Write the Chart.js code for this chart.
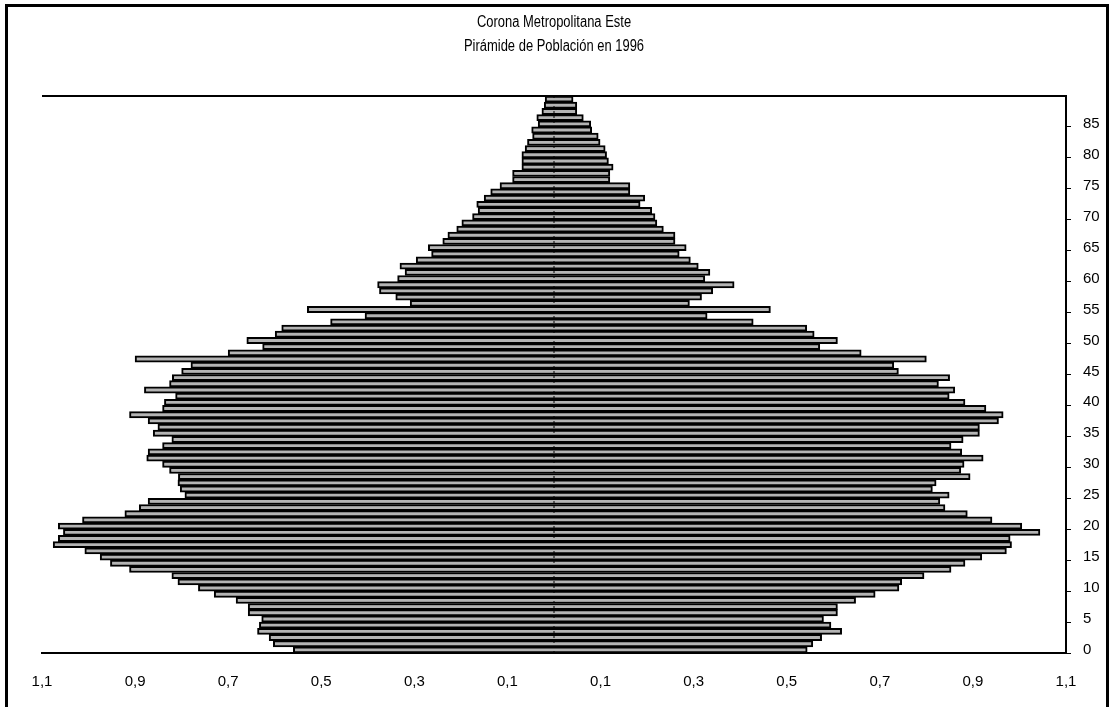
<!DOCTYPE html>
<html>
    <head>
        <title>Pirámide de Población 1996</title>
        <meta http-equiv="Content-Type" content="text/html; charset=UTF-8">
        <script src="https://cdn.jsdelivr.net/npm/chart.js"></script>
        <style>
            body { margin: 0; background: #fff; }
            #cadre {
                position: absolute; left: 5px; top: 4px;
                width: 1104px; height: 720px;
                border: 3px solid #000; box-sizing: border-box;
            }
            #zone { position: absolute; left: 0; top: 0; width: 1114px; height: 707px; }
        </style>
    </head>
    <body>
        <div id="cadre"></div>
        <div id="zone"><canvas id="piramide"></canvas></div>

        <script>
            // edades 0..89
            const edades = [];
            for (let i = 0; i < 90; i++) edades.push(String(i));

            // % de población, hombres (izquierda) y mujeres (derecha)
            const hombres = [
                0.560, 0.603, 0.612, 0.637, 0.633, 0.628, 0.657, 0.657, 0.683, 0.730,
                0.764, 0.808, 0.821, 0.912, 0.953, 0.975, 1.008, 1.076, 1.065, 1.054,
                1.065, 1.013, 0.922, 0.891, 0.872, 0.793, 0.803, 0.808, 0.807, 0.826,
                0.841, 0.875, 0.872, 0.841, 0.821, 0.861, 0.851, 0.872, 0.912, 0.841,
                0.837, 0.813, 0.880, 0.826, 0.820, 0.800, 0.780, 0.900, 0.700, 0.626,
                0.660, 0.599, 0.585, 0.480, 0.406, 0.530, 0.309, 0.340, 0.375, 0.379,
                0.336, 0.320, 0.331, 0.296, 0.263, 0.270, 0.239, 0.228, 0.209, 0.198,
                0.175, 0.163, 0.166, 0.150, 0.136, 0.116, 0.089, 0.089, 0.069, 0.069,
                0.069, 0.062, 0.057, 0.046, 0.048, 0.034, 0.037, 0.026, 0.021, 0.019
            ];
            const mujeres = [
                0.544, 0.556, 0.575, 0.618, 0.595, 0.579, 0.609, 0.609, 0.648, 0.690,
                0.741, 0.747, 0.795, 0.853, 0.883, 0.919, 0.972, 0.983, 0.980, 1.044,
                1.005, 0.941, 0.888, 0.840, 0.829, 0.849, 0.813, 0.821, 0.894, 0.874,
                0.881, 0.922, 0.876, 0.853, 0.879, 0.914, 0.914, 0.955, 0.965, 0.928,
                0.883, 0.849, 0.861, 0.826, 0.850, 0.740, 0.730, 0.800, 0.660, 0.571,
                0.609, 0.559, 0.543, 0.428, 0.329, 0.465, 0.291, 0.317, 0.341, 0.387,
                0.324, 0.335, 0.310, 0.293, 0.269, 0.284, 0.260, 0.260, 0.235, 0.221,
                0.217, 0.210, 0.185, 0.195, 0.163, 0.163, 0.120, 0.120, 0.127, 0.117,
                0.113, 0.110, 0.099, 0.095, 0.081, 0.079, 0.063, 0.049, 0.049, 0.041
            ];

            const valoresX = [-1.1, -0.9, -0.7, -0.5, -0.3, -0.1, 0.1, 0.3, 0.5, 0.7, 0.9, 1.1];
            const etiquetasX = ['1,1', '0,9', '0,7', '0,5', '0,3', '0,1', '0,1', '0,3', '0,5', '0,7', '0,9', '1,1'];

            const titulo = ['Corona Metropolitana Este', 'Pirámide de Población en 1996'];

            const fuente = "'Liberation Sans', Arial, sans-serif";
            Chart.defaults.font.family = fuente;
            Chart.defaults.color = '#000';

            // título (letra estrecha) centrado sobre el área, línea de arriba y línea punteada central
            const bordes = {
                id: 'bordes',
                afterDraw(chart) {
                    const c = chart.ctx, a = chart.chartArea;
                    const xc = (a.left + a.right) / 2;
                    c.save();
                    c.fillStyle = '#000';
                    c.font = '16px ' + fuente;
                    c.textAlign = 'center';
                    c.textBaseline = 'middle';
                    c.translate(xc, 0);
                    c.scale(0.81, 1);
                    c.fillText(titulo[0], 0, 23);
                    c.fillText(titulo[1], 0, 47);
                    c.restore();
                },
                afterDatasetsDraw(chart) {
                    const c = chart.ctx, a = chart.chartArea;
                    const x0 = chart.scales.x.getPixelForValue(0);
                    c.save();
                    c.strokeStyle = '#000';
                    c.lineWidth = 1;
                    c.setLineDash([2, 3]);
                    c.beginPath();
                    c.moveTo(x0, a.top);
                    c.lineTo(x0, a.bottom);
                    c.stroke();
                    c.setLineDash([]);
                    c.lineWidth = 2;
                    c.beginPath();
                    c.moveTo(a.left, a.top);
                    c.lineTo(a.right + 1, a.top);
                    c.stroke();
                    c.restore();
                }
            };

            const ctx = document.getElementById('piramide').getContext('2d');
            const chart = new Chart(ctx, {
                type: 'bar',
                data: {
                    labels: edades,
                    datasets: [
                        {
                            label: 'Hombres',
                            data: hombres.map(v => -v),
                            backgroundColor: '#b4b4b4',
                            borderColor: '#000',
                            borderWidth: 2,
                            barPercentage: 1,
                            categoryPercentage: 1
                        },
                        {
                            label: 'Mujeres',
                            data: mujeres,
                            backgroundColor: '#b4b4b4',
                            borderColor: '#000',
                            borderWidth: 2,
                            barPercentage: 1,
                            categoryPercentage: 1
                        }
                    ]
                },
                options: {
                    indexAxis: 'y',
                    responsive: true,
                    maintainAspectRatio: false,
                    animation: false,
                    layout: { padding: { left: 42, right: 0, top: 96, bottom: 0 } },
                    plugins: {
                        legend: { display: false },
                        tooltip: { enabled: false },
                        title: { display: false }
                    },
                    scales: {
                        x: {
                            stacked: true,
                            min: -1.1,
                            max: 1.1,
                            afterBuildTicks: (scale) => {
                                scale.ticks = valoresX.map(v => ({ value: v }));
                            },
                            afterFit: (scale) => { scale.height = 54; },
                            grid: { display: false, drawTicks: false },
                            border: { color: '#000', width: 2 },
                            ticks: {
                                autoSkip: false,
                                maxRotation: 0,
                                padding: 20,
                                font: { size: 15 },
                                callback: (value, index) => etiquetasX[index]
                            }
                        },
                        y: {
                            stacked: true,
                            reverse: true,
                            position: 'right',
                            afterFit: (scale) => { scale.width = 48; },
                            grid: {
                                drawOnChartArea: false,
                                tickLength: 5,
                                color: (c) => (c.index % 5 === 0 ? '#000' : 'rgba(0,0,0,0)')
                            },
                            border: { color: '#000', width: 2 },
                            ticks: {
                                autoSkip: false,
                                padding: 12,
                                font: { size: 15 },
                                callback: function (value, index) {
                                    return index % 5 === 0 ? this.getLabelForValue(value) : '';
                                }
                            }
                        }
                    }
                },
                plugins: [bordes]
            });
        </script>
    </body>
</html>
